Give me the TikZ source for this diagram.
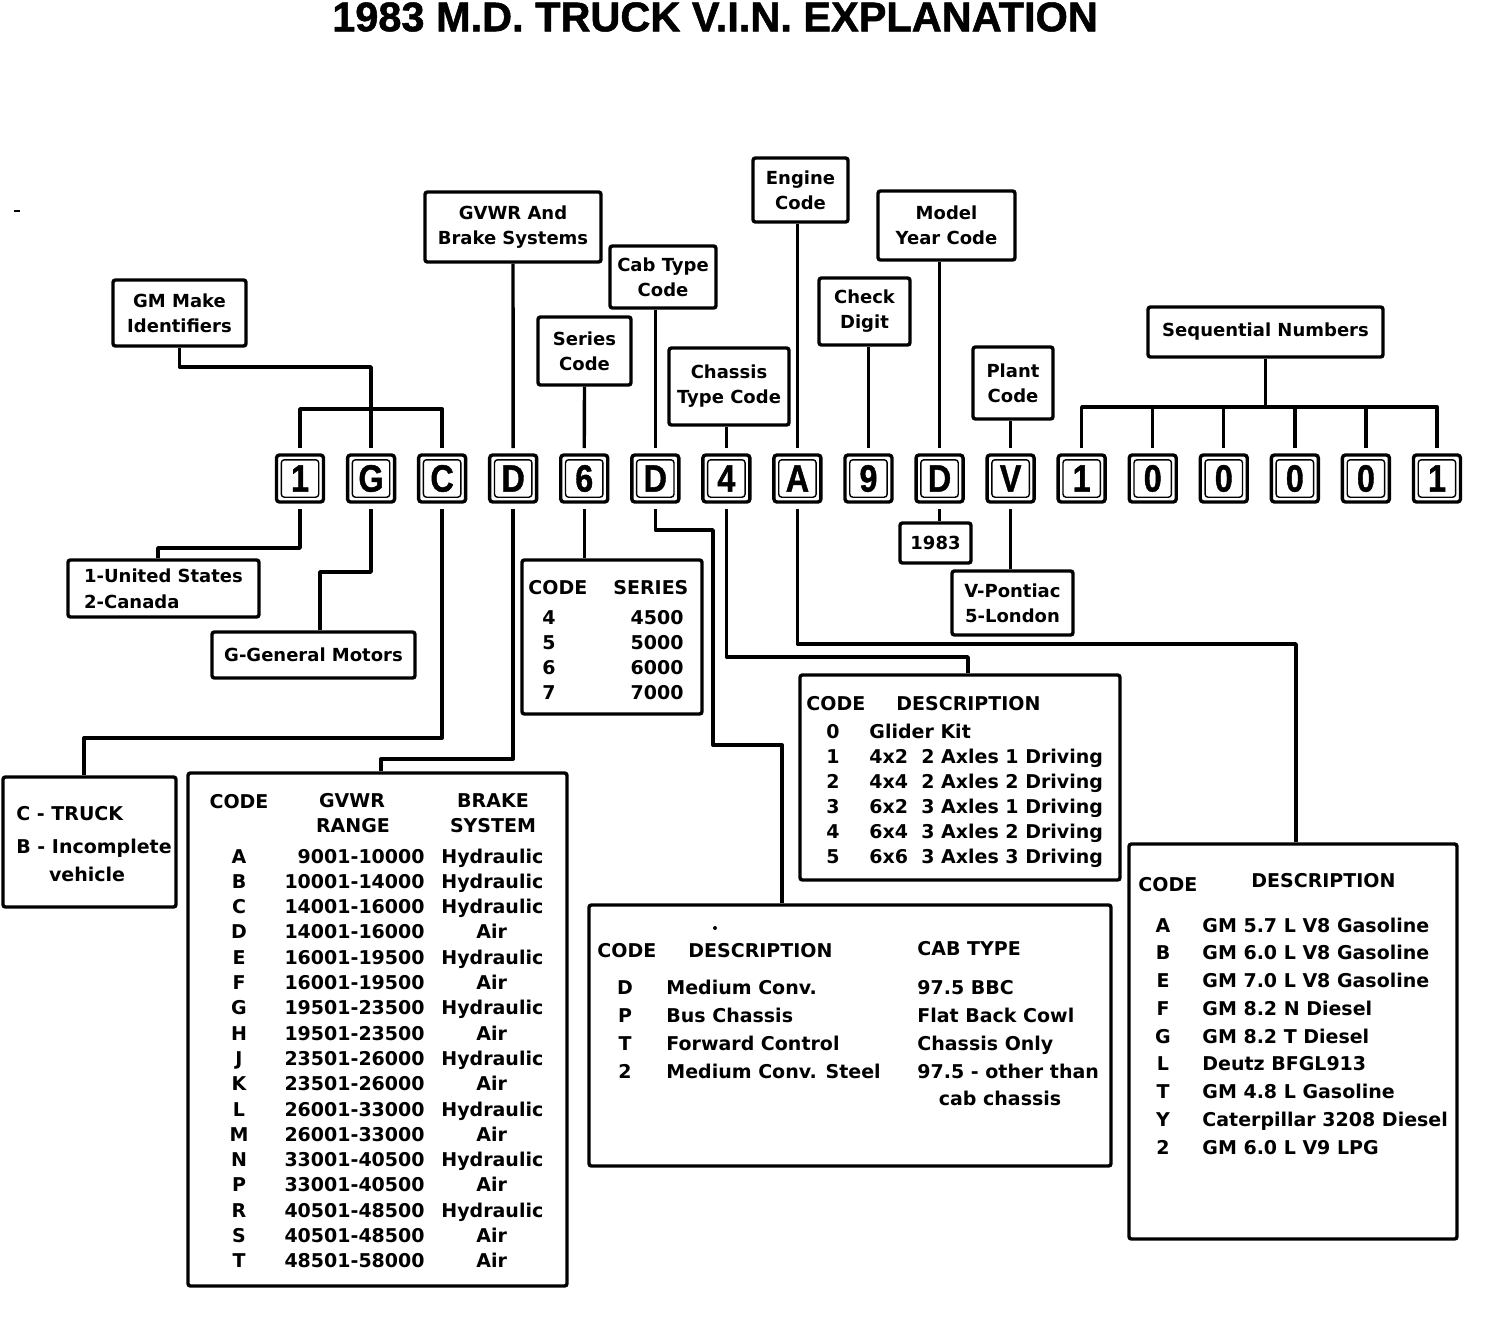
\documentclass[tikz,border=0pt]{standalone}
\usepackage{fontspec}
\usepackage{graphicx}
\setmainfont{DejaVu Sans}
\newfontfamily\dvfont{DejaVu Sans}
\newfontfamily\libfont{Liberation Sans}[BoldFeatures={FakeBold=1.2}]
\tikzset{
  x=0.5pt, y=-0.5pt,
  conn/.style={line width=1.7pt, line join=round},
  lbl/.style={draw, line width=1.7pt, rounded corners=1.2pt, inner sep=0pt, align=center,
    font=\dvfont\bfseries\fontsize{9}{12.5}\selectfont},
  tbl/.style={draw, line width=1.7pt, rounded corners=1.2pt, inner sep=0pt},
  tx/.style={inner sep=0pt, text height=7pt, text depth=0pt,
    font=\dvfont\bfseries\fontsize{9.5}{11}\selectfont},
  chr/.style={draw, line width=1.7pt, rounded corners=1.5pt, minimum width=23.5pt,
    minimum height=23.5pt, inner sep=0pt, outer sep=3.5pt,
    font=\libfont\bfseries\fontsize{19}{19}\selectfont,
    path picture={\draw[line width=0.7pt] ([shift={(2.4pt,-2.4pt)}]path picture bounding box.north west)
      rectangle ([shift={(-2.4pt,2.4pt)}]path picture bounding box.south east);}},
}
\begin{document}
\begin{tikzpicture}
\fill[white] (0,0) rectangle (1504,1322);
\useasboundingbox (0,0) rectangle (1504,1322);

% title
\node[inner sep=0pt, font=\libfont\bfseries\fontsize{20.75}{24}\selectfont] (title) at (715,17)
  {1983 M.D. TRUCK V.I.N. EXPLANATION};

% VIN characters
\foreach \t [count=\i from 0] in {1,G,C,D,6,D,4,A,9,D,V,1,0,0,0,0,1}
  \node[chr] (c\i) at (300+71.06*\i, 478.5) {\scalebox{0.85}[1]{\t}};

% upper label boxes
\node[lbl, minimum width=66.5pt, minimum height=33pt] (gm) at (179.5,313) {GM Make\\Identifiers};
\node[lbl, minimum width=88pt, minimum height=35pt] (gvwr) at (513,227) {GVWR And\\Brake Systems};
\node[lbl, minimum width=46.5pt, minimum height=34pt] (series) at (584.5,351) {Series\\Code};
\node[lbl, minimum width=53pt, minimum height=31pt] (cab) at (663,277) {Cab Type\\Code};
\node[lbl, minimum width=60pt, minimum height=38.5pt] (chassis) at (729,386.5) {Chassis\\Type Code};
\node[lbl, minimum width=47.5pt, minimum height=32pt] (engine) at (800.5,190) {Engine\\Code};
\node[lbl, minimum width=45.5pt, minimum height=33.5pt] (check) at (864.5,311.5) {Check\\Digit};
\node[lbl, minimum width=68.5pt, minimum height=34.5pt] (model) at (946.5,225.5) {Model\\Year Code};
\node[lbl, minimum width=40pt, minimum height=36pt] (plant) at (1013,383) {Plant\\Code};
\node[lbl, minimum width=117.5pt, minimum height=25pt] (seq) at (1265.5,332) {Sequential Numbers};

% upper connectors
\draw[conn] (gm.south) -- (gm.south |- 0,367) -| (c1.north);
\draw[conn] (c0.north) |- (c2.north |- 0,409) -- (c2.north);
\draw[conn] (gvwr.south) -- (c3.north);
\draw[conn] (series.south) -- (c4.north);
\draw[conn] (c5.north |- cab.south) -- (c5.north);
\draw[conn] (c6.north |- chassis.south) -- (c6.north);
\draw[conn] (c7.north |- engine.south) -- (c7.north);
\draw[conn] (c8.north |- check.south) -- (c8.north);
\draw[conn] (c9.north |- model.south) -- (c9.north);
\draw[conn] (c10.north |- plant.south) -- (c10.north);
\draw[conn] (seq.south) -- (seq.south |- 0,407);
\draw[conn] (c11.north) |- (c16.north |- 0,407) -- (c16.north);
\foreach \i in {12,...,15} \draw[conn] (c\i.north |- 0,407) -- (c\i.north);

% lower boxes
\node[lbl, align=left, font=\dvfont\bfseries\fontsize{9}{13}\selectfont, minimum width=95.5pt, minimum height=28.5pt] (us) at (163.5,588.5) {1-United States\\2-Canada};
\node[lbl, minimum width=101.5pt, minimum height=23pt] (gm2) at (313.5,655) {G-General Motors};
\node[tbl, minimum width=86.5pt, minimum height=65pt] (truck) at (89.5,842) {};
\node[tbl, minimum width=189.5pt, minimum height=256.5pt] (gvt) at (377.5,1029.5) {};
\node[tbl, minimum width=90pt, minimum height=77pt] (ser) at (612,637) {};
\node[tbl, minimum width=160pt, minimum height=102.5pt] (chas) at (960,777.5) {};
\node[tbl, minimum width=261pt, minimum height=130.5pt] (cabt) at (850,1035.5) {};
\node[tbl, minimum width=164pt, minimum height=197.5pt] (eng) at (1293,1041.5) {};
\node[lbl, minimum width=35.5pt, minimum height=20pt] (yr) at (935.5,543) {1983};
\node[lbl, minimum width=60.5pt, minimum height=32pt] (pl) at (1012.5,603) {V-Pontiac\\5-London};

% lower connectors
\draw[conn] (c0.south) -- (c0.south |- 0,548) -- (158,548) -- (158,0 |- us.north);
\draw[conn] (c1.south) -- (c1.south |- 0,572) -- (320,572) -- (320,0 |- gm2.north);
\draw[conn] (c2.south) -- (c2.south |- 0,738) -- (84,738) -- (84,0 |- truck.north);
\draw[conn] (c3.south) -- (c3.south |- 0,759) -- (381,759) -- (381,0 |- gvt.north);
\draw[conn] (c4.south) -- (c4.south |- ser.north);
\draw[conn] (c5.south) -- (c5.south |- 0,530) -- (713,530) -- (713,745) -- (782,745) -- (782,0 |- cabt.north);
\draw[conn] (c6.south) -- (c6.south |- 0,657) -- (968,657) -- (968,0 |- chas.north);
\draw[conn] (c7.south) -- (c7.south |- 0,644) -- (1296,644) -- (1296,0 |- eng.north);
\draw[conn] (c9.south) -- (c9.south |- yr.north);
\draw[conn] (c10.south) -- (c10.south |- pl.north);

% truck box text
\node[tx, anchor=west] (tr1) at (16,813) {C - TRUCK};
\node[tx, anchor=west] (tr2) at (16,846) {B - Incomplete};
\node[tx] (tr3) at (87,874) {vehicle};

% GVWR table
\node[tx] (gh1) at (239,801) {CODE};
\node[tx] (gh2) at (352,800) {GVWR};
\node[tx] (gh3) at (353,825) {RANGE};
\node[tx] (gh4) at (493,800) {BRAKE};
\node[tx] (gh5) at (493,825) {SYSTEM};
\foreach \c/\r/\bx/\bt [count=\i from 0] in {
  A/9001-10000/441/Hydraulic, B/10001-14000/441/Hydraulic, C/14001-16000/441/Hydraulic,
  D/14001-16000/476/Air, E/16001-19500/441/Hydraulic, F/16001-19500/476/Air,
  G/19501-23500/441/Hydraulic, H/19501-23500/476/Air, J/23501-26000/441/Hydraulic,
  K/23501-26000/476/Air, L/26001-33000/441/Hydraulic, M/26001-33000/476/Air,
  N/33001-40500/441/Hydraulic, P/33001-40500/476/Air, R/40501-48500/441/Hydraulic,
  S/40501-48500/476/Air, T/48501-58000/476/Air} {
  \node[tx] (gc\i) at (239,856+25.3*\i) {\c};
  \node[tx, anchor=east] (gr\i) at (425,856+25.3*\i) {\r};
  \node[tx, anchor=west] (gb\i) at (\bx,856+25.3*\i) {\bt};
}

% series table
\node[tx, anchor=west] (sh1) at (528,587) {CODE};
\node[tx, anchor=west] (sh2) at (613,587) {SERIES};
\foreach \c/\v [count=\i from 0] in {4/4500, 5/5000, 6/6000, 7/7000} {
  \node[tx] (sc\i) at (549,617+25.3*\i) {\c};
  \node[tx, anchor=east] (sv\i) at (684,617+25.3*\i) {\v};
}

% chassis table
\node[tx, anchor=west] (ch1) at (806,703) {CODE};
\node[tx, anchor=west] (ch2) at (896,703) {DESCRIPTION};
\foreach \c/\d [count=\i from 0] in {0/Glider Kit, 1/4x2~~2 Axles 1 Driving,
  2/4x4~~2 Axles 2 Driving, 3/6x2~~3 Axles 1 Driving, 4/6x4~~3 Axles 2 Driving,
  5/6x6~~3 Axles 3 Driving} {
  \node[tx] (cc\i) at (833,731+25*\i) {\c};
  \node[tx, anchor=west] (cd\i) at (869,731+25*\i) {\d};
}

% cab table
\fill (715,928) circle[radius=2];
\node[tx, anchor=west] (kh1) at (597,950) {CODE};
\node[tx, anchor=west] (kh2) at (688,950) {DESCRIPTION};
\node[tx, anchor=west] (kh3) at (917,948) {CAB TYPE};
\foreach \c/\d/\t [count=\i from 0] in {D/Medium Conv./97.5 BBC, P/Bus Chassis/Flat Back Cowl,
  T/Forward Control/Chassis Only, 2/Medium Conv. Steel/97.5 - other than} {
  \node[tx] (kc\i) at (625,987+28*\i) {\c};
  \node[tx, anchor=west] (kd\i) at (666,987+28*\i) {\d};
  \node[tx, anchor=west] (kt\i) at (917,987+28*\i) {\t};
}
\node[tx] (kt4) at (1000,1098) {cab chassis};

% engine table
\node[tx, anchor=west] (eh1) at (1138,884) {CODE};
\node[tx, anchor=west] (eh2) at (1251,880) {DESCRIPTION};
\foreach \c/\d [count=\i from 0] in {A/GM 5.7 L V8 Gasoline, B/GM 6.0 L V8 Gasoline,
  E/GM 7.0 L V8 Gasoline, F/GM 8.2 N Diesel, G/GM 8.2 T Diesel, L/Deutz BFGL913,
  T/GM 4.8 L Gasoline, Y/Caterpillar 3208 Diesel, 2/GM 6.0 L V9 LPG} {
  \node[tx] (ec\i) at (1163,925+27.75*\i) {\c};
  \node[tx, anchor=west] (ed\i) at (1202,925+27.75*\i) {\d};
}

% small marks
\fill (14,210) rectangle (20,212);
\end{tikzpicture}
\end{document}
